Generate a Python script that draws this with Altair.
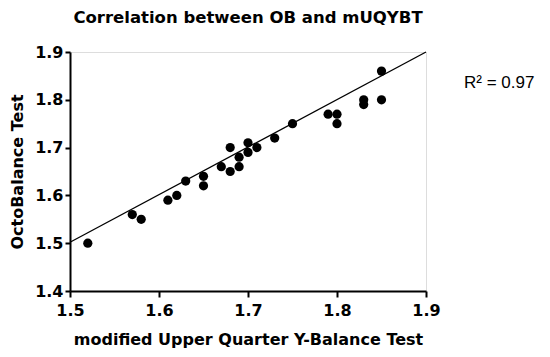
import altair as alt
import pandas as pd

# Data
mUQYBT = [1.52, 1.57, 1.58, 1.61, 1.62, 1.63, 1.65, 1.65, 1.67, 1.68, 1.68, 1.69, 1.69,
          1.70, 1.70, 1.71, 1.73, 1.75, 1.79, 1.80, 1.80, 1.83, 1.83, 1.85, 1.85]
OB = [1.50, 1.56, 1.55, 1.59, 1.60, 1.63, 1.64, 1.62, 1.66, 1.70, 1.65, 1.68, 1.66,
      1.71, 1.69, 1.70, 1.72, 1.75, 1.77, 1.77, 1.75, 1.80, 1.79, 1.86, 1.80]
fit_x = [1.5, 1.9]
fit_y = [1.502, 1.9]
x_ticks = [1.5, 1.6, 1.7, 1.8, 1.9]
y_ticks = [1.4, 1.5, 1.6, 1.7, 1.8, 1.9]
r2_label = ["R² = 0.97"]

pts = pd.DataFrame({"x": mUQYBT, "y": OB})
fit = pd.DataFrame({"x": fit_x, "y": fit_y})
ann = pd.DataFrame({"t": r2_label})

FONT = "DejaVu Sans"

xs = alt.Scale(domain=[1.5, 1.9], nice=False, zero=False)
ys = alt.Scale(domain=[1.4, 1.9], nice=False, zero=False)

xaxis = alt.Axis(values=x_ticks, format=".1f", grid=False, domainColor="black", domainWidth=2,
                 tickColor="black", tickWidth=2, tickSize=6, labelPadding=5,
                 labelFont=FONT, labelFontSize=16, labelFontWeight="bold", labelColor="black",
                 titleFont=FONT, titleFontSize=16, titleFontWeight="bold", titleColor="black",
                 titlePadding=13, labelFlush=False)
yaxis = alt.Axis(values=y_ticks, format=".1f", grid=False, domainColor="black", domainWidth=2,
                 tickColor="black", tickWidth=2, tickSize=5, labelPadding=2,
                 labelFont=FONT, labelFontSize=16, labelFontWeight="bold", labelColor="black",
                 titleFont=FONT, titleFontSize=16, titleFontWeight="bold", titleColor="black",
                 titlePadding=9, labelFlush=False)

points = alt.Chart(pts).mark_circle(size=85, color="black", opacity=1).encode(
    x=alt.X("x:Q", scale=xs, axis=xaxis, title="modified Upper Quarter Y-Balance Test"),
    y=alt.Y("y:Q", scale=ys, axis=yaxis, title="OctoBalance Test"),
)
line = alt.Chart(fit).mark_line(color="black", strokeWidth=1.3).encode(
    x=alt.X("x:Q", scale=xs), y=alt.Y("y:Q", scale=ys)
)
text = alt.Chart(ann).mark_text(align="left", baseline="alphabetic", font="Liberation Sans",
                                fontSize=17, color="black").encode(
    x=alt.value(394), y=alt.value(36), text="t:N"
)

chart = alt.layer(line, points, text).properties(
    width=356, height=239,
    title=alt.TitleParams("Correlation between OB and mUQYBT", font=FONT, fontSize=16.5,
                          fontWeight="bold", color="black", anchor="middle", offset=18),
    autosize=alt.AutoSizeParams(type="none"),
    padding={"left": 62, "top": 44, "right": 110, "bottom": 60},
).configure_view(stroke=None).configure(background="white")

chart.save("out.html", embed_options={"renderer": "svg", "actions": False})
